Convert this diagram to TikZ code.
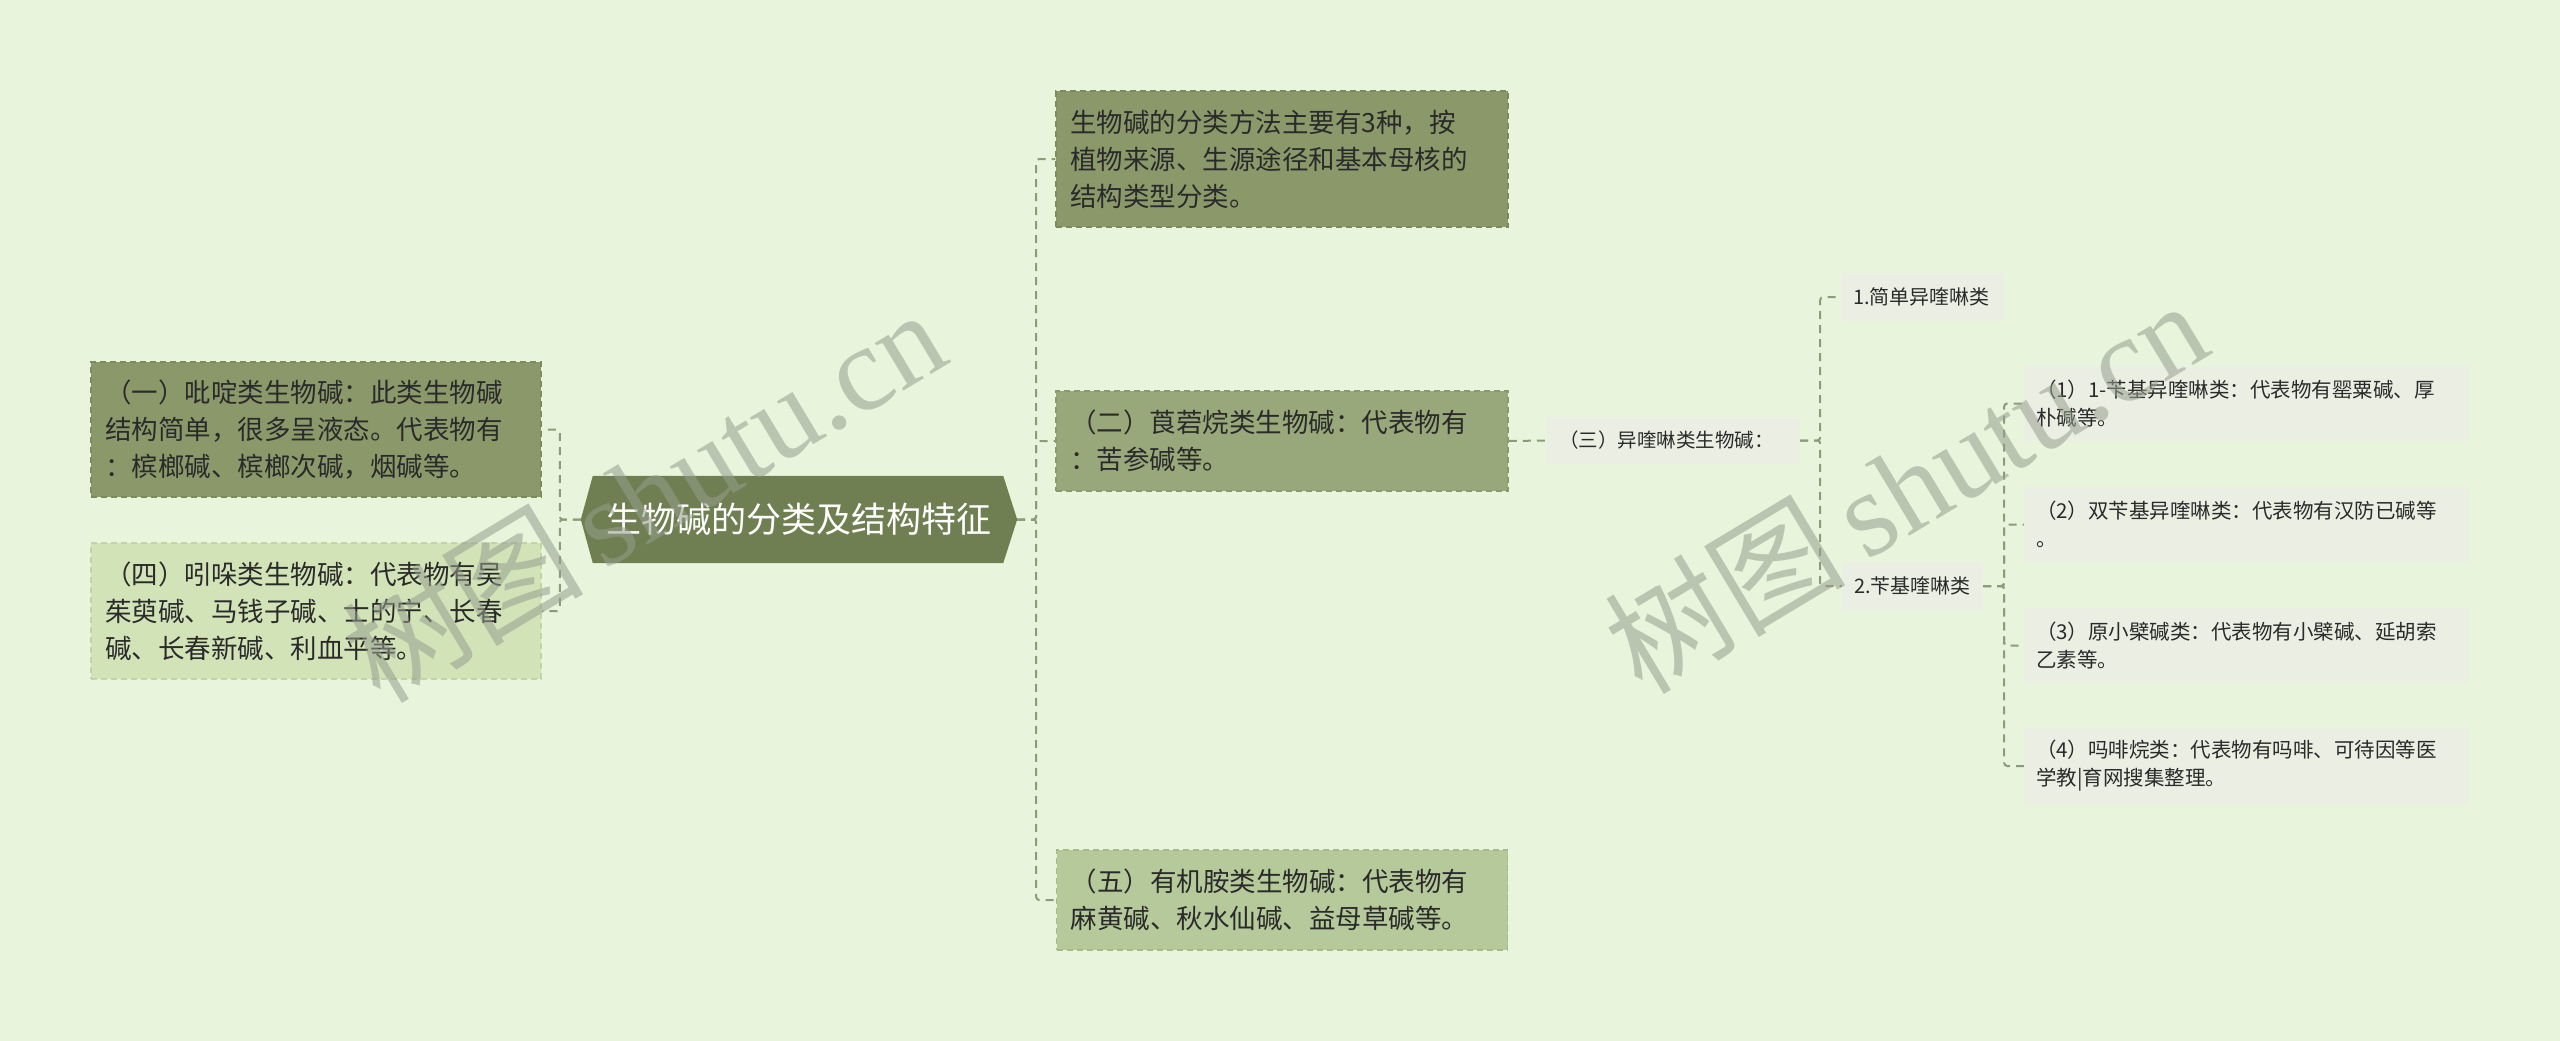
\documentclass[tikz,border=0pt]{standalone}
\usepackage{fontspec}
\setmainfont{Noto Sans CJK SC}
\newfontfamily\wmfont{Liberation Serif}
\usetikzlibrary{backgrounds}
\definecolor{bgc}{HTML}{E8F5DC}
\definecolor{rootc}{HTML}{6F7F51}
\definecolor{darkc}{HTML}{8B996A}
\definecolor{darkb}{HTML}{7C8B5C}
\definecolor{midc}{HTML}{99A87A}
\definecolor{midb}{HTML}{8A9A6C}
\definecolor{palec}{HTML}{D2E3B8}
\definecolor{paleb}{HTML}{C2D4A6}
\definecolor{lightc}{HTML}{B5C99A}
\definecolor{lightb}{HTML}{A5B98A}
\definecolor{leafc}{HTML}{EBEFE3}
\definecolor{txtc}{HTML}{2A2A2A}
\definecolor{linec}{HTML}{8C9C7A}
\definecolor{wmc}{RGB}{150,158,142}
\tikzset{
  x=1pt, y=-1pt,
  bigbox/.style 2 args={draw, dashed, dash pattern=on 6pt off 4pt, line width=1.5pt,
    text=txtc, align=left, inner xsep=14pt, inner ysep=0pt,
    text width=#1, minimum height=#2,
    font=\fontsize{26.5}{37}\selectfont},
  leafbox/.style 2 args={fill=leafc, text=txtc, align=left, inner xsep=12pt, inner ysep=0pt,
    text width=#1, minimum height=#2, font=\fontsize{20.5}{28}\selectfont},
  rootnode/.style={text=white, minimum width=436pt, minimum height=87pt, inner sep=0pt,
    font=\fontsize{35}{40}\selectfont},
  conn/.style={draw=linec, line width=2pt, dash pattern=on 8pt off 6pt, rounded corners=3pt},
  wm/.style={text=wmc, opacity=0.55, rotate=31, inner sep=0pt}
}
\begin{document}
\begin{tikzpicture}
\useasboundingbox (0,0) rectangle (2560,1041);

% root node
\node[rootnode] (root) at (799,519.5) {生物碱的分类及结构特征};
\begin{scope}[on background layer]
  \fill[bgc] (0,0) rectangle (2560,1041);
  \fill[rootc] (root.west) -- ([xshift=12pt]root.north west) -- ([xshift=-14pt]root.north east)
    -- (root.east) -- ([xshift=-14pt]root.south east) -- ([xshift=12pt]root.south west) -- cycle;
\end{scope}

% left children
\node[bigbox={422pt}{135pt}, fill=darkc, draw=darkb] (n1) at (316,429.5)
  {（一）吡啶类生物碱：此类生物碱\\结构简单，很多呈液态。代表物有\\：槟榔碱、槟榔次碱，烟碱等。};
\node[bigbox={422pt}{136pt}, fill=palec, draw=paleb] (n4) at (316,611)
  {（四）吲哚类生物碱：代表物有吴\\茱萸碱、马钱子碱、士的宁、长春\\碱、长春新碱、利血平等。};

% right children
\node[bigbox={424pt}{136pt}, fill=darkc, draw=darkb] (n0) at (1282,159)
  {生物碱的分类方法主要有3种，按\\植物来源、生源途径和基本母核的\\结构类型分类。};
\node[bigbox={424pt}{100pt}, fill=midc, draw=midb] (n2) at (1282,441)
  {（二）莨菪烷类生物碱：代表物有\\：苦参碱等。};
\node[bigbox={423pt}{100pt}, fill=lightc, draw=lightb] (n5) at (1282,900)
  {（五）有机胺类生物碱：代表物有\\麻黄碱、秋水仙碱、益母草碱等。};

% isoquinoline branch
\node[leafbox={229pt}{47pt}, font=\fontsize{19.5}{26}\selectfont] (n3) at (1673.5,440.5) {（三）异喹啉类生物碱：};
\node[leafbox={139pt}{48pt}, font=\fontsize{20}{26}\selectfont] (a) at (1922.5,297) {1.简单异喹啉类};
\node[leafbox={117pt}{48pt}, font=\fontsize{20}{26}\selectfont] (b) at (1912.5,586) {2.苄基喹啉类};
\node[leafbox={421pt}{75pt}] (c1) at (2246.5,403.5) {（1）1-苄基异喹啉类：代表物有罂粟碱、厚\\朴碱等。};
\node[leafbox={421pt}{75pt}] (c2) at (2246.5,524.5) {（2）双苄基异喹啉类：代表物有汉防已碱等\\。};
\node[leafbox={421pt}{75pt}] (c3) at (2246.5,645.5) {（3）原小檗碱类：代表物有小檗碱、延胡索\\乙素等。};
\node[leafbox={421pt}{76pt}] (c4) at (2246.5,766) {（4）吗啡烷类：代表物有吗啡、可待因等医\\学教|育网搜集整理。};

% connectors
\draw[conn] (root.west) -- ([xshift=-21pt]root.west) |- (n1.east);
\draw[conn] (root.west) -- ([xshift=-21pt]root.west) |- (n4.east);
\draw[conn] (root.east) -- ([xshift=19pt]root.east) |- (n0.west);
\draw[conn] (root.east) -- ([xshift=19pt]root.east) |- (n2.west);
\draw[conn] (root.east) -- ([xshift=19pt]root.east) |- (n5.west);
\draw[conn] (n2.east) -- (n3.west);
\draw[conn] (n3.east) -- ([xshift=20pt]n3.east) |- (a.west);
\draw[conn] (n3.east) -- ([xshift=20pt]n3.east) |- (b.west);
\draw[conn] (b.east) -- ([xshift=21pt]b.east) |- (c1.west);
\draw[conn] (b.east) -- ([xshift=21pt]b.east) |- (c2.west);
\draw[conn] (b.east) -- ([xshift=21pt]b.east) |- (c3.west);
\draw[conn] (b.east) -- ([xshift=21pt]b.east) |- (c4.west);

% watermarks
\node[wm, anchor=base west] (wm1) at (380,706) {\fontsize{121}{121}\selectfont 树图\,{\wmfont shutu.cn}};
\node[wm, anchor=base west] (wm2) at (1642,697) {\fontsize{121}{121}\selectfont 树图\,{\wmfont shutu.cn}};
\end{tikzpicture}
\end{document}
